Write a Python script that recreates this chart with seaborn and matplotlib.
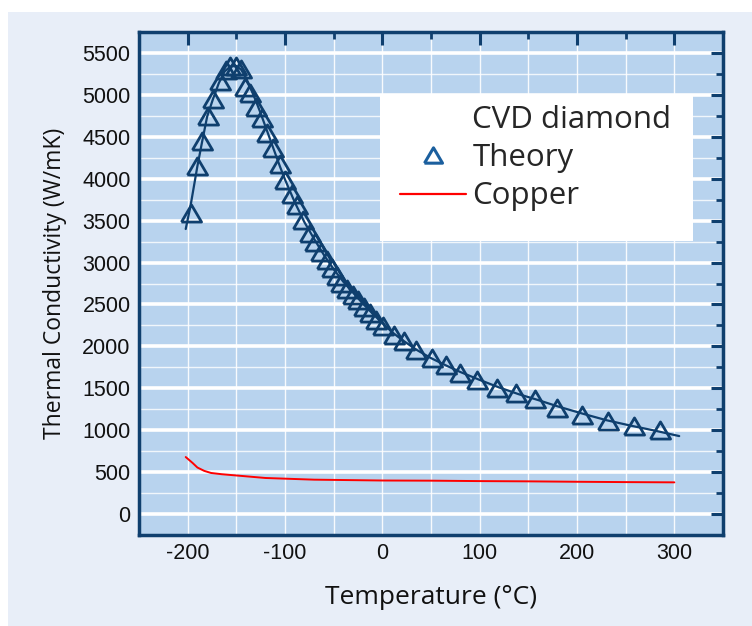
import matplotlib
matplotlib.use("Agg")
import matplotlib.pyplot as plt
import seaborn as sns
import pandas as pd
from matplotlib.lines import Line2D
from matplotlib.patches import Rectangle
from matplotlib.ticker import MultipleLocator

# ---------------- data ----------------
theory_T = [-197, -190, -185, -179.5, -173.5, -167, -161, -156, -150.5, -145.5, -141, -136,
            -130, -124, -118, -112, -105, -100, -93, -88, -81, -74, -69, -63, -57, -52, -47,
            -42, -36, -30, -25, -19, -13, -6, 1, 12, 22, 35, 51, 65, 80, 97, 118, 137, 157,
            179, 205, 232, 259, 285]
theory_K = [3590, 4150, 4450, 4750, 4950, 5160, 5300, 5345, 5350, 5310, 5090, 5020,
            4860, 4720, 4550, 4370, 4170, 3990, 3820, 3690, 3510, 3350, 3250, 3130, 3030, 2930, 2840,
            2760, 2690, 2610, 2550, 2470, 2400, 2320, 2240, 2140, 2060, 1960, 1860, 1780, 1680, 1600, 1500, 1440, 1370,
            1265, 1185, 1105, 1045, 1005]

curve_T = [-202, -197, -190, -185, -180, -174, -168, -162, -156, -150, -145, -140, -135, -130,
           -125, -120, -115, -110, -105, -100, -90, -80, -70, -60, -50, -40, -30, -20, -10, 0,
           10, 20, 35, 50, 65, 80, 100, 120, 140, 160, 180, 205, 230, 255, 280, 305]
curve_K = [3400, 3680, 4150, 4450, 4740, 4950, 5140, 5280, 5340, 5345, 5300, 5200, 5070, 4930,
           4780, 4620, 4460, 4300, 4140, 3990, 3720, 3480, 3280, 3090, 2920, 2770, 2640, 2510, 2390, 2280,
           2170, 2080, 1960, 1860, 1775, 1695, 1600, 1510, 1430, 1360, 1285, 1200, 1120, 1055, 995, 930]

copper_T = [-202, -195, -190, -183, -176, -165, -150, -120, -70, 0, 50, 100, 150, 200, 250, 300]
copper_K = [680, 610, 555, 515, 490, 475, 460, 430, 410, 400, 398, 393, 390, 385, 381, 378]

legend_labels = ["CVD diamond", "Theory", "Copper"]
x_label = "Temperature (°C)"
y_label = "Thermal Conductivity (W/mK)"

# ---------------- style ----------------
sns.set_style("white")
plt.rcParams['font.family'] = ['Liberation Sans', 'DejaVu Sans']
plt.rcParams['axes.unicode_minus'] = False

navy = '#0F3F6E'
axbg = '#B8D3EE'
panel = '#E8EEF8'

W, H = 752, 626
fig = plt.figure(figsize=(W / 100, H / 100), dpi=100, facecolor='white')
bgp = Rectangle((8 / W, 0), (W - 8) / W, (H - 12) / H, transform=fig.transFigure,
                facecolor=panel, edgecolor='none', zorder=-10)
fig.patches.append(bgp)

L, R, T, B = 139, 723, 32, 535
ax = fig.add_axes([L / W, (H - B) / H, (R - L) / W, (B - T) / H])
ax.set_zorder(1)
ax.set_facecolor(axbg)

df_theory = pd.DataFrame({"T": theory_T, "K": theory_K})
df_curve = pd.DataFrame({"T": curve_T, "K": curve_K})
df_copper = pd.DataFrame({"T": copper_T, "K": copper_K})

tri = [(-1, -0.85), (1, -0.85), (0, 0.85), (-1, -0.85)]

sns.lineplot(data=df_curve, x="T", y="K", ax=ax, color=navy, lw=1.6, sort=False, zorder=3)
ax.plot(df_theory["T"], df_theory["K"], ls='none', marker=tri, ms=14.5, mfc='none',
        mec=navy, mew=2.0, zorder=4)
sns.lineplot(data=df_copper, x="T", y="K", ax=ax, color='#FF0000', lw=1.4, sort=False, zorder=3)

ax.set_xlim(-250, 350)
ax.set_ylim(-250, 5750)
ax.xaxis.set_major_locator(MultipleLocator(100))
ax.xaxis.set_minor_locator(MultipleLocator(50))
ax.yaxis.set_major_locator(MultipleLocator(500))
ax.yaxis.set_minor_locator(MultipleLocator(250))
ax.set_xticks([-200, -100, 0, 100, 200, 300])
ax.set_yticks(list(range(0, 5501, 500)))

ax.grid(which='major', axis='y', color='white', lw=2.6, zorder=1)
ax.grid(which='minor', axis='y', color='white', lw=1.0, alpha=0.8, zorder=1)
ax.grid(which='both', axis='x', color='white', lw=1.0, alpha=0.9, zorder=1)
ax.set_axisbelow(True)

for s in ax.spines.values():
    s.set_color(navy)
    s.set_linewidth(2.5)
    s.set_visible(True)

ax.tick_params(which='both', direction='in', top=True, right=True, color=navy,
               labelsize=15.5, labelcolor='#111111')
ax.tick_params(which='major', length=9, width=2.2, pad=6)
ax.tick_params(which='minor', length=5, width=2.0)

ax.set_xlabel(x_label, fontsize=19, family=['Open Sans', 'DejaVu Sans'], color='#111111', labelpad=15)
ax.set_ylabel(y_label, fontsize=16.5, family=['Open Sans', 'DejaVu Sans'], color='#111111', labelpad=11)

# legend box
ax.add_patch(Rectangle(((380 - L) / (R - L), (B - 241) / (B - T)), (693 - 380) / (R - L),
                       (241 - 94) / (B - T), transform=ax.transAxes, facecolor='white',
                       edgecolor='none', zorder=5))
handles = [Line2D([], [], ls='none', marker=None),
           Line2D([], [], ls='none', marker=tri, ms=13, mfc='none', mec='#1B5F9E', mew=2.2),
           Line2D([], [], color='#FF0000', lw=1.6)]
leg = ax.legend(handles, legend_labels, loc='center left',
                bbox_to_anchor=((400 - L) / (R - L), (B - 158) / (B - T)),
                frameon=False, borderpad=0, borderaxespad=0, handlelength=2.1,
                handletextpad=0.22, labelspacing=0.27,
                prop={'family': ['Open Sans', 'DejaVu Sans'], 'size': 22.5})
leg.set_zorder(6)

fig.savefig("out.png", dpi=100, facecolor='white')
